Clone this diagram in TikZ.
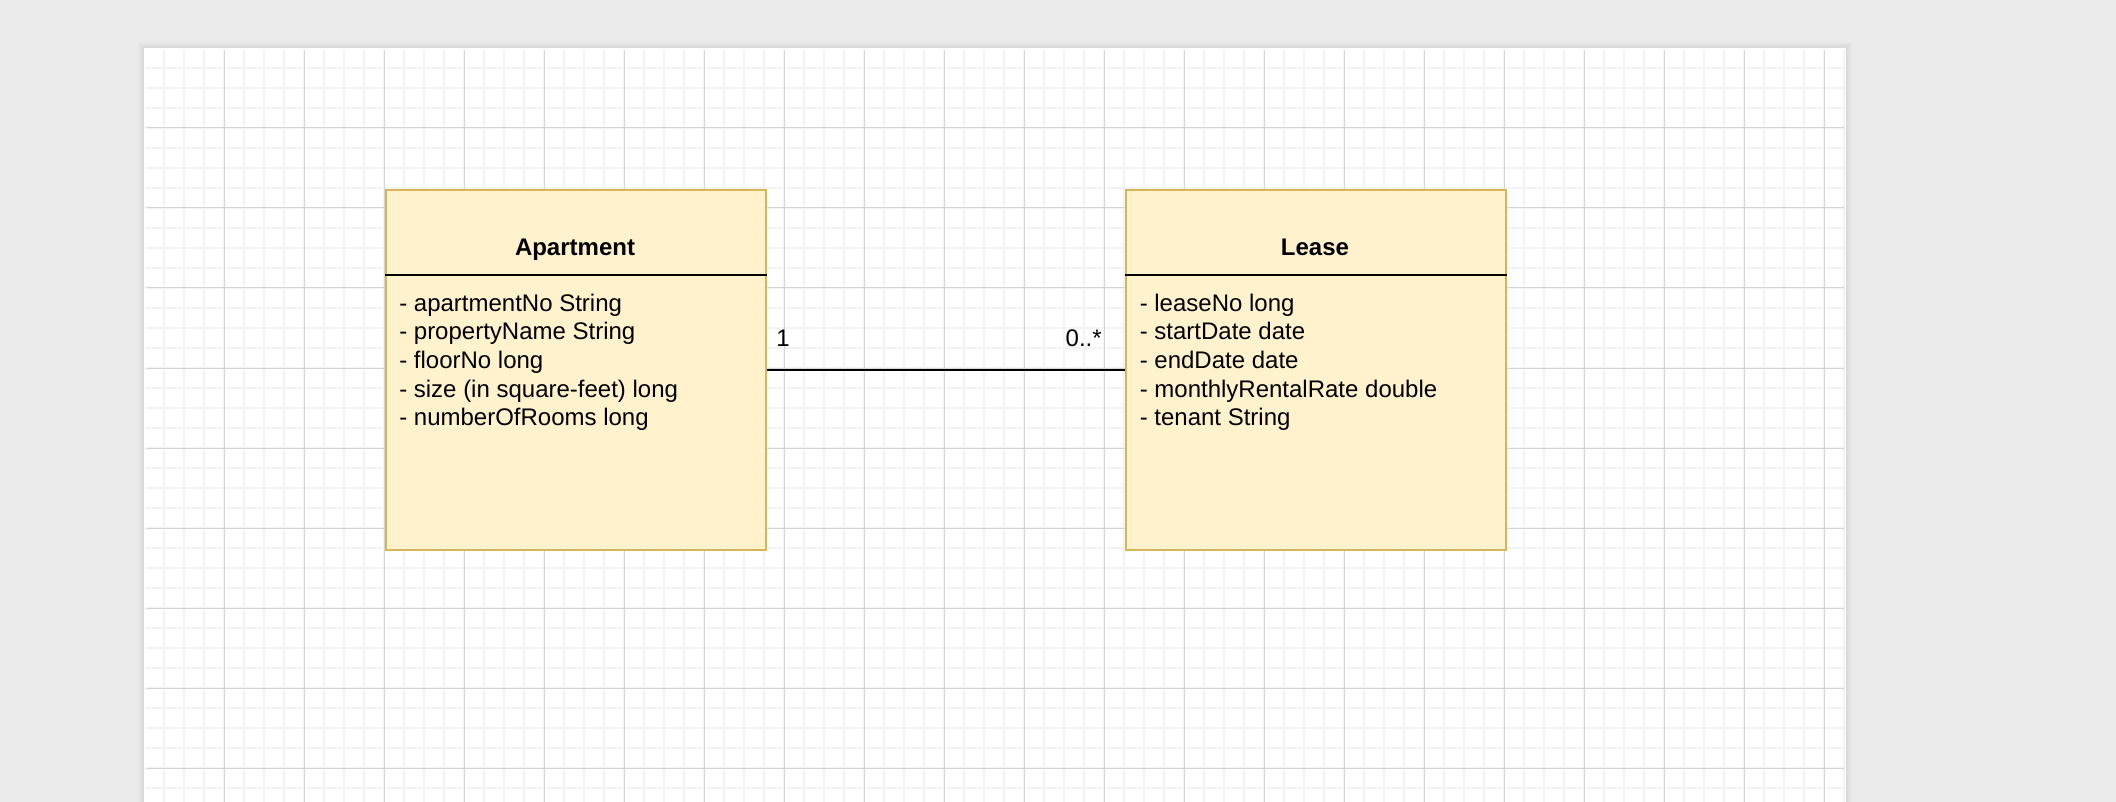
\documentclass[tikz,border=0pt]{standalone}
\usepackage{fontspec}
\setmainfont{Liberation Sans}
\definecolor{bgcol}{HTML}{EBEBEB}
\definecolor{minorcol}{HTML}{F3F3F3}
\definecolor{majorcol}{HTML}{D5D5D5}
\definecolor{clsfill}{HTML}{FFF2CC}
\definecolor{clsborder}{HTML}{D6B656}
\begin{document}
\begin{tikzpicture}[x=0.75pt,y=-0.75pt,
  minor/.style={draw=minorcol, line width=1.1pt},
  major/.style={draw=majorcol, line width=0.75pt},
  cls/.style={draw=clsborder, fill=clsfill, line width=1.5pt, inner sep=0pt,
    minimum width=285pt, minimum height=270pt, anchor=north west},
  sepline/.style={draw=black, line width=1.5pt},
  title/.style={font=\fontsize{18pt}{21.6pt}\selectfont\bfseries, inner sep=0pt, anchor=base},
  attr/.style={font=\fontsize{18pt}{21.6pt}\selectfont, inner sep=0pt, anchor=base west},
  lbl/.style={font=\fontsize{18pt}{21.6pt}\selectfont, inner sep=0pt},
  conn/.style={draw=black, line width=1.5pt}]
\useasboundingbox (0,0) rectangle (2116,802);
\fill[bgcol] (0,0) rectangle (2116,802);
% page shadow
\foreach \i in {1,...,6}
  \fill[black, opacity=0.012] (144-\i,48-\i) rectangle (1846+\i,810);
\fill[white] (144,48) rectangle (1846,810);
% grid
\foreach \x in {164,184,...,1844} \draw[minor] (\x,50) -- (\x,802);
\foreach \y in {68,88,...,788} \draw[minor] (146,\y) -- (1844,\y);
\foreach \x in {224,304,...,1824} \draw[major] (\x,50) -- (\x,802);
\foreach \y in {128,208,...,768} \draw[major] (146,\y) -- (1844,\y);
% classes
\node[cls] (apt) at (385,189) {};
\node[cls] (lease) at (1125,189) {};
\draw[sepline] ([yshift=-64.5pt]apt.north west) -- ([yshift=-64.5pt]apt.north east);
\draw[sepline] ([yshift=-64.5pt]lease.north west) -- ([yshift=-64.5pt]lease.north east);
\node[title] (aptT) at (575,255.5) {Apartment};
\node[title] (leaseT) at (1315,255.5) {Lease};
\foreach [count=\i from 0] \txt in {- apartmentNo String, - propertyName String, - floorNo long, - size (in square-feet) long, - numberOfRooms long}
  \node[attr] (aptA\i) at (399,311+28.7*\i) {\txt};
\foreach [count=\i from 0] \txt in {- leaseNo long, - startDate date, - endDate date, - monthlyRentalRate double, - tenant String}
  \node[attr] (leaseA\i) at (1139.5,311+28.7*\i) {\txt};
% association
\draw[conn] (apt.east) -- (lease.west);
\node[lbl, anchor=base west] (m1) at (776,346) {1};
\node[lbl, anchor=base east] (m2) at (1102,346) {0..*};
\end{tikzpicture}
\end{document}
